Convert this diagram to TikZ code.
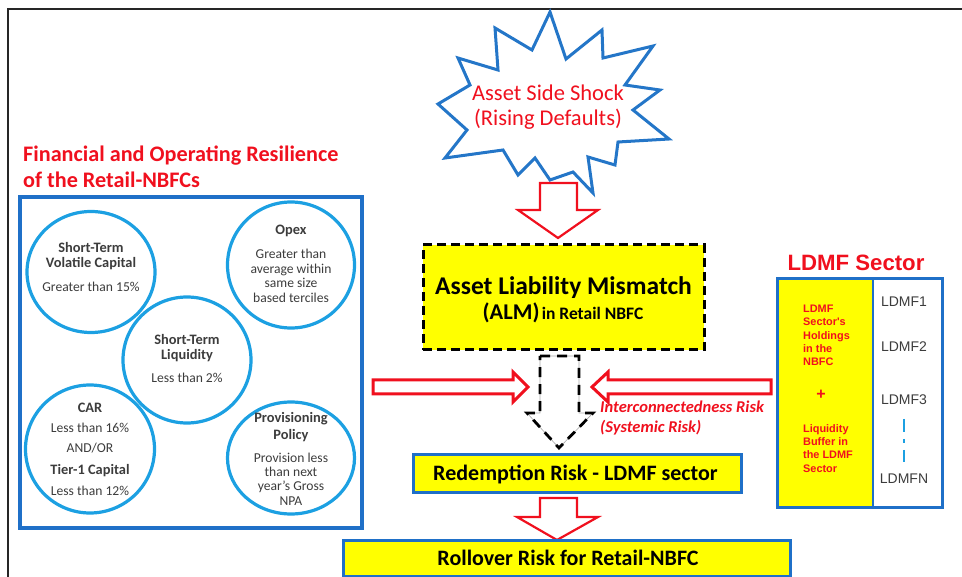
\documentclass[tikz,border=0pt]{standalone}
\usepackage{fontspec}
\setmainfont{Carlito}
\newfontfamily\arialfont{Liberation Sans}
\usetikzlibrary{shapes.geometric}
\definecolor{frameblue}{RGB}{31,112,200}
\definecolor{circblue}{RGB}{28,160,226}
\definecolor{starblue}{RGB}{36,118,200}
\definecolor{tred}{RGB}{240,16,30}
\definecolor{ayellow}{RGB}{255,255,0}
\definecolor{dgray}{RGB}{60,60,60}
\newcommand\fsz[1]{\fontsize{#1}{#1}\selectfont}
\begin{document}
\begin{tikzpicture}[x=1pt,y=-1pt,
  txt/.style={anchor=base,inner sep=0pt},
  circ/.style={draw=circblue,line width=3.2pt,ellipse,inner sep=0pt},
  ctitle/.style={txt,font=\fsz{14.4}\bfseries,text=dgray},
  cbody/.style={txt,font=\fsz{13.6},text=dgray},
  hollow/.style={draw=tred,line width=2.2pt,fill=white,line join=miter},
  ybox/.style={draw=frameblue,line width=3pt,fill=ayellow,inner sep=0pt},
  ldl/.style={anchor=base west,inner sep=0pt,font=\arialfont\fsz{10.9}\bfseries,text=tred},
  ldr/.style={anchor=base,inner sep=0pt,font=\arialfont\fsz{14},text=dgray},
]
\useasboundingbox (0,0) rectangle (962,577);
% frame
\draw[line width=2.5pt,draw=black!85] (8,578) -- (8,9) -- (963,9);

% left title
\node[txt,anchor=base west,font=\fsz{22.2}\bfseries,text=tred] (t1) at (23,162) {Financial and Operating Resilience};
\node[txt,anchor=base west,font=\fsz{22.2}\bfseries,text=tred] (t2) at (23,188) {of the Retail-NBFCs};

% resilience box
\node[draw=frameblue,line width=3.5pt,minimum width=342pt,minimum height=331pt,inner sep=0pt] (resbox) at (191,362.5) {};

% circles
\node[circ,minimum width=128pt,minimum height=121pt] (c1) at (91,272) {};
\node[circ,minimum width=127pt,minimum height=126pt] (c2) at (291,265) {};
\node[circ,minimum width=128pt,minimum height=126pt,fill=white] (c3) at (187,360) {};
\node[circ,minimum width=129pt,minimum height=128pt] (c4) at (90,449) {};
\node[circ,minimum width=127pt,minimum height=112pt] (c5) at (291,458) {};

\node[ctitle] (c1a) at (91,253) {Short-Term};
\node[ctitle] (c1b) at (91,268) {Volatile Capital};
\node[cbody]  (c1c) at (91,292) {Greater than 15\%};

\node[ctitle] (c2a) at (291,235) {Opex};
\node[cbody]  (c2b) at (291,259) {Greater than};
\node[cbody]  (c2c) at (291,274) {average within};
\node[cbody]  (c2d) at (291,288) {same size};
\node[cbody]  (c2e) at (291,303) {based terciles};

\node[ctitle] (c3a) at (187,345) {Short-Term};
\node[ctitle] (c3b) at (187,360) {Liquidity};
\node[cbody]  (c3c) at (187,383) {Less than 2\%};

\node[ctitle] (c4a) at (90,413) {CAR};
\node[cbody]  (c4b) at (90,433) {Less than 16\%};
\node[cbody]  (c4c) at (90,453) {AND/OR};
\node[ctitle] (c4d) at (90,475) {Tier-1 Capital};
\node[cbody]  (c4e) at (90,495) {Less than 12\%};

\node[ctitle] (c5a) at (291,423) {Provisioning};
\node[ctitle] (c5b) at (291,440) {Policy};
\node[cbody]  (c5c) at (291,462) {Provision less};
\node[cbody]  (c5d) at (291,476) {than next};
\node[cbody]  (c5e) at (291,490) {year’s Gross};
\node[cbody]  (c5f) at (291,505) {NPA};

% starburst
\draw[draw=starblue,line width=3pt,fill=white,line join=miter]
  (550,12) -- (566,59) -- (602,30) -- (603,58) -- (653,46) -- (625,85) -- (660,90)
  -- (633,110) -- (669,139) -- (618,142) -- (615,165) -- (588,157) -- (593,193)
  -- (573,172) -- (550,180) -- (535,158) -- (518,175) -- (503,150) -- (445,158)
  -- (467,130) -- (438,104) -- (470,85) -- (458,58) -- (498,70) -- (495,28)
  -- (532,50) -- cycle;
\node[txt,font=\fsz{22.5},text=tred] (s1) at (548,101) {Asset Side Shock};
\node[txt,font=\fsz{22.5},text=tred] (s2) at (548,126) {(Rising Defaults)};

% arrow shock -> ALM
\draw[hollow] (540,183) -- (577,183) -- (577,210) -- (598,210) -- (558,238) -- (518,210) -- (540,210) -- cycle;

% ALM box
\node[draw=black,line width=3pt,dash pattern=on 9pt off 5pt,fill=ayellow,minimum width=281pt,minimum height=105pt,inner sep=0pt] (alm) at (563.5,297.5) {};
\node[txt,font=\fsz{25.5}\bfseries] (alm1) at (563.5,295) {Asset Liability Mismatch};
\node[txt,font=\bfseries] (alm2) at (563,320) {{\fsz{22.5}(ALM)} {\fsz{17.5}in Retail NBFC}};

% dashed arrow ALM -> Redemption
\draw[draw=black!35,line width=0.6pt] (540,356) -- (579,356) -- (579,413) -- (593,413) -- (559,448) -- (527,413) -- (540,413) -- cycle;
\draw[draw=black,line width=2.8pt,dash pattern=on 10pt off 7pt] (540,356) -- (579,356) -- (579,413) -- (593,413) -- (559,448) -- (527,413) -- (540,413) -- cycle;

% side arrows
\draw[hollow,line width=3pt] (373,380) -- (513,380) -- (513,372) -- (528,387) -- (513,402) -- (513,394) -- (373,394) -- cycle;
\draw[hollow,line width=3pt] (771,380) -- (608,380) -- (608,372) -- (592,387) -- (608,402) -- (608,394) -- (771,394) -- cycle;

\node[txt,anchor=base west,font=\fsz{16.5}\bfseries\itshape,text=tred] (ir1) at (600,413) {Interconnectedness\ Risk};
\node[txt,anchor=base west,font=\fsz{16.5}\bfseries\itshape,text=tred] (ir2) at (600,433) {(Systemic Risk)};

% Redemption box
\node[ybox,minimum width=328pt,minimum height=37pt] (red) at (577,473.5) {};
\node[txt,font=\fsz{22}\bfseries] (redt) at (575.5,481) {Redemption Risk - LDMF sector};

% arrow Redemption -> Rollover
\draw[hollow] (540,498) -- (577,498) -- (577,517) -- (598,517) -- (557,540) -- (517,517) -- (540,517) -- cycle;

% Rollover box
\node[ybox,minimum width=447pt,minimum height=36pt] (roll) at (566.5,558) {};
\node[txt,font=\fsz{22}\bfseries] (rollt) at (568,565) {Rollover Risk for Retail-NBFC};

% LDMF sector
\node[txt,font=\arialfont\fsz{22.2}\bfseries,text=tred] (ldt) at (856,271) {LDMF Sector};
\fill[ayellow] (777,279) rectangle (873,507);
\fill[white] (873,279) rectangle (942,507);
\node[draw=frameblue,line width=3pt,minimum width=165pt,minimum height=228pt,inner sep=0pt] (ldbox) at (859.5,393) {};
\draw[frameblue,line width=2pt] (ldbox.north west -| 873,0) -- (ldbox.south west -| 873,0);

\node[ldl] (l1) at (803,313) {LDMF};
\node[ldl] (l2) at (803,326) {Sector's};
\node[ldl] (l3) at (803,340) {Holdings};
\node[ldl] (l4) at (803,353) {in the};
\node[ldl] (l5) at (803,366) {NBFC};
\node[txt,font=\arialfont\fsz{16}\bfseries,text=tred] (lplus) at (821,400) {+};
\node[ldl] (l6) at (803,433) {Liquidity};
\node[ldl] (l7) at (803,446) {Buffer in};
\node[ldl] (l8) at (803,459) {the LDMF};
\node[ldl] (l9) at (803,472) {Sector};

\node[ldr] (f1) at (904,307) {LDMF1};
\node[ldr] (f2) at (904,352) {LDMF2};
\node[ldr] (f3) at (904,405) {LDMF3};
\node[ldr] (fn) at (904,483) {LDMFN};
\draw[draw=circblue,line width=2.5pt] (f3.south |- 0,419) -- (f3.south |- 0,432);
\draw[draw=circblue,line width=2.5pt] (f3.south |- 0,439) -- (f3.south |- 0,443);
\draw[draw=circblue,line width=2.5pt] (f3.south |- 0,450) -- (f3.south |- 0,462);
\end{tikzpicture}
\end{document}
